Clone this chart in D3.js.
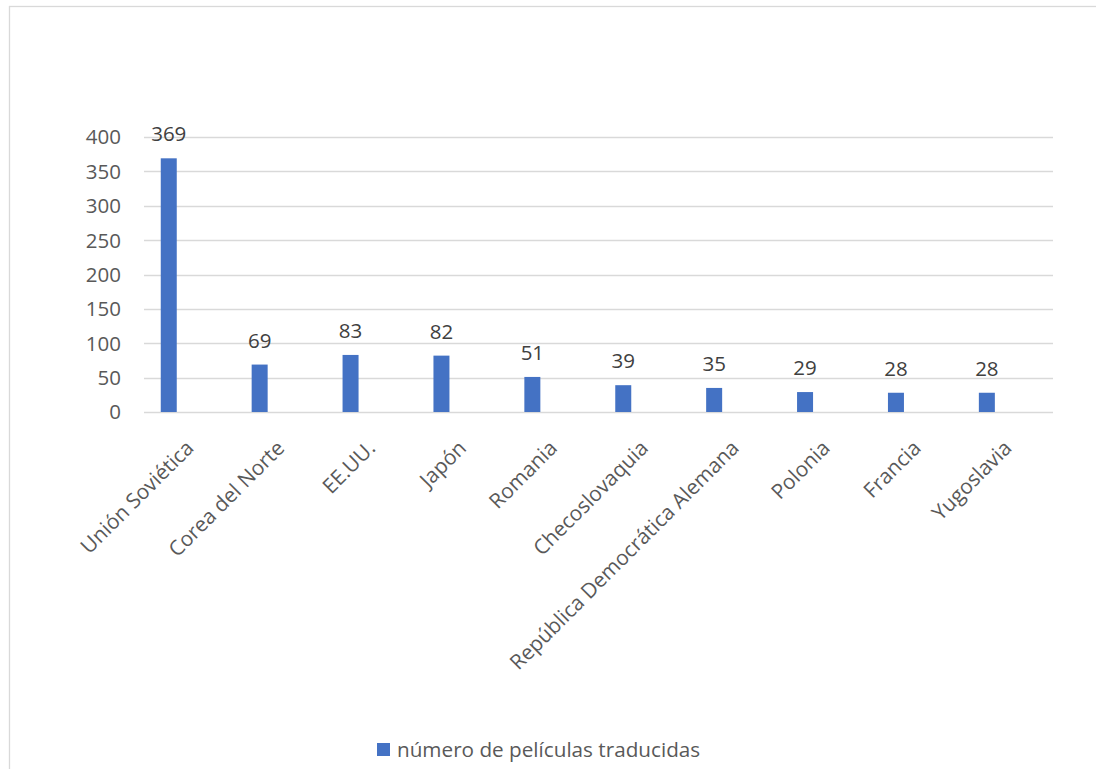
<!DOCTYPE html>
<html>
<head>
<meta charset="utf-8">
<script src="https://cdn.jsdelivr.net/npm/d3@7"></script>
<style>
  html, body { margin: 0; padding: 0; background: #ffffff; }
  svg { display: block; }
  text { font-family: "Open Sans", "Noto Sans", sans-serif; fill: #595959; }
</style>
</head>
<body>
<svg id="chart" width="1096" height="769"></svg>
<script>
// Películas traducidas por país de origen
const categories = ["Unión Soviética", "Corea del Norte", "EE.UU.", "Japón", "Romania",
  "Checoslovaquia", "República Democrática Alemana", "Polonia", "Francia", "Yugoslavia"];
const values = [369, 69, 83, 82, 51, 39, 35, 29, 28, 28];
const seriesName = "número de películas traducidas";
const yTicks = [0, 50, 100, 150, 200, 250, 300, 350, 400];

const svg = d3.select("#chart");
const plot = { left: 144, right: 1053, top: 137, bottom: 412 };
const barColor = "#4472c4";
const gridColor = "#d9d9d9";

// outer chart frame
svg.append("rect")
  .attr("x", 9.5).attr("y", 6.5)
  .attr("width", 1100).attr("height", 800)
  .attr("fill", "#ffffff")
  .attr("stroke", gridColor).attr("stroke-width", 1.3);

const x = d3.scaleBand().domain(categories).range([plot.left, plot.right]).padding(0);
const y = d3.scaleLinear().domain([0, 400]).range([plot.bottom, plot.top]);

// clustered slot: the series sits in the left half of each category group
const slot = d3.scaleBand().domain([seriesName, ""]).range([0, x.bandwidth()])
  .paddingInner(0).paddingOuter(0.098);
const barW = 16;
const barX = c => x(c) + slot(seriesName) + slot.bandwidth() / 2 - barW / 2;

// horizontal gridlines
svg.append("g").selectAll("line")
  .data(yTicks.filter(t => t > 0))
  .join("line")
  .attr("x1", plot.left).attr("x2", plot.right)
  .attr("y1", d => Math.round(y(d)) + 0.5).attr("y2", d => Math.round(y(d)) + 0.5)
  .attr("stroke", gridColor).attr("stroke-width", 1.3);

// category axis line
svg.append("line")
  .attr("x1", plot.left).attr("x2", plot.right)
  .attr("y1", Math.round(y(0)) + 0.5).attr("y2", Math.round(y(0)) + 0.5)
  .attr("stroke", gridColor).attr("stroke-width", 1.6);

// value axis labels
svg.append("g").selectAll("text")
  .data(yTicks)
  .join("text")
  .attr("x", 121)
  .attr("y", d => y(d))
  .attr("dy", "0.36em")
  .attr("text-anchor", "end")
  .attr("font-size", 20.5)
  .text(d => d);

// bars
svg.append("g").selectAll("rect")
  .data(values)
  .join("rect")
  .attr("x", (d, i) => barX(categories[i]))
  .attr("y", d => y(d))
  .attr("width", barW)
  .attr("height", d => y(0) - y(d))
  .attr("fill", barColor);

// value labels above bars
svg.append("g").selectAll("text")
  .data(values)
  .join("text")
  .attr("x", (d, i) => barX(categories[i]) + barW / 2)
  .attr("y", d => y(d) - 17)
  .attr("text-anchor", "middle")
  .attr("font-size", 20.5)
  .style("fill", "#404040")
  .text(d => d);

// rotated category labels
svg.append("g").selectAll("text")
  .data(categories)
  .join("text")
  .attr("transform", c => `translate(${x(c) + x.bandwidth() / 2 + 1},${445}) rotate(-45)`)
  .attr("text-anchor", "end")
  .attr("dy", "0.3em")
  .attr("font-size", 20.8)
  .text(c => c);

// legend
const legend = svg.append("g");
legend.append("rect")
  .attr("x", 377).attr("y", 743)
  .attr("width", 13).attr("height", 13)
  .attr("fill", barColor);
legend.append("text")
  .attr("x", 397).attr("y", 757)
  .attr("font-size", 20.7)
  .text(seriesName);
</script>
</body>
</html>
